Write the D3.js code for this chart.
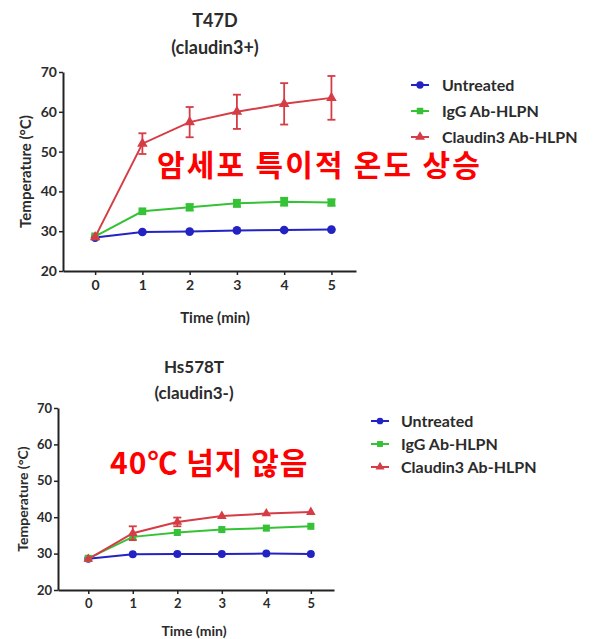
<!DOCTYPE html>
<html>
<head>
<meta charset="utf-8">
<script src="https://cdn.jsdelivr.net/npm/d3@7"></script>
<style>
  body { margin: 0; background: #fff; }
  svg { display: block; }
  .tick text { font-family: Lato, 'Liberation Sans', sans-serif; font-weight: bold; fill: #2b2b2b; }
</style>
</head>
<body>
<svg id="chart" width="595" height="639"></svg>
<script>
const times = [0, 1, 2, 3, 4, 5];
const yTicks = [20, 30, 40, 50, 60, 70];
const seriesNames = ['Untreated', 'IgG Ab-HLPN', 'Claudin3 Ab-HLPN'];
const seriesColors = ['#2323c4', '#36c236', '#d63c46'];

// T47D (claudin3+)
const t47dUntreated = [28.4, 29.8, 29.9, 30.2, 30.3, 30.4];
const t47dIgg = [28.7, 35.0, 36.0, 37.0, 37.4, 37.2];
const t47dIggErr = [0.3, 0.6, 0.8, 0.9, 1.0, 0.8];
const t47dClaudin = [28.5, 52.0, 57.4, 60.0, 62.0, 63.5];
const t47dClaudinErr = [0.4, 2.6, 3.8, 4.3, 5.2, 5.5];

// Hs578T (claudin3-)
const hsUntreated = [28.6, 29.8, 29.9, 29.9, 30.0, 29.9];
const hsIgg = [28.7, 34.6, 35.8, 36.6, 37.0, 37.5];
const hsIggErr = [0.3, 0.6, 0.5, 0.5, 0.5, 0.6];
const hsClaudin = [28.5, 35.6, 38.7, 40.3, 41.0, 41.4];
const hsClaudinErr = [0.4, 1.9, 1.2, 0.5, 0.4, 0.6];

const svg = d3.select('#chart');
const font = "Lato, 'Liberation Sans', sans-serif";

function drawPanel(opts) {
  const x = d3.scaleLinear().domain([-0.68, 5.52]).range([opts.left, opts.right]);
  const y = d3.scaleLinear().domain([20, 70]).range([opts.bottom, opts.top]);
  const g = svg.append('g');

  // titles
  [opts.title, opts.subtitle].forEach((t, i) => {
    g.append('text')
      .attr('x', opts.titleX).attr('y', opts.titleY + i * opts.titleGap)
      .attr('text-anchor', 'middle')
      .style('font-family', font)
      .style('font-weight', 'bold').style('font-size', opts.titleSize + 'px').style('fill', '#2b2b2b')
      .text(t);
  });

  // axes
  const xAxis = g.append('g')
    .attr('transform', `translate(0,${opts.bottom})`)
    .call(d3.axisBottom(x).tickValues(times).tickFormat(d3.format('d')).tickSize(4).tickPadding(5).tickSizeOuter(0));
  xAxis.select('.domain').attr('stroke', '#222').attr('stroke-width', 2);
  xAxis.selectAll('.tick line').attr('stroke', '#222').attr('stroke-width', 1.5);
  xAxis.selectAll('.tick text').style('font-size', opts.tickSize + 'px');

  const yAxis = g.append('g')
    .attr('transform', `translate(${opts.left},0)`)
    .call(d3.axisLeft(y).tickValues(yTicks).tickSize(4).tickPadding(2).tickSizeOuter(0));
  yAxis.select('.domain').attr('stroke', '#222').attr('stroke-width', 2);
  yAxis.selectAll('.tick line').attr('stroke', '#222').attr('stroke-width', 1.5);
  yAxis.selectAll('.tick text').style('font-size', opts.tickSize + 'px');

  g.append('text')
    .attr('x', opts.xLabelX).attr('y', opts.bottom + opts.xLabelGap)
    .attr('text-anchor', 'middle')
    .style('font-family', font)
    .style('font-weight', 'bold').style('font-size', opts.labelSize + 'px').style('fill', '#2b2b2b')
    .text('Time (min)');
  g.append('text')
    .attr('transform', `translate(${opts.yLabelX},${(opts.top + opts.bottom) / 2}) rotate(-90)`)
    .attr('text-anchor', 'middle')
    .style('font-family', font)
    .style('font-weight', 'bold').style('font-size', opts.labelSize + 'px').style('fill', '#2b2b2b')
    .text('Temperature (°C)');

  const line = d3.line().x((d, i) => x(times[i])).y(d => y(d));
  const symbols = [d3.symbolCircle, d3.symbolSquare, d3.symbolTriangle];

  opts.series.forEach((s, k) => {
    const color = seriesColors[k];
    // error bars
    if (s.err) {
      const eb = g.append('g').attr('stroke', color).attr('stroke-width', 1.8);
      s.values.forEach((v, i) => {
        if (s.err[i] < 0.7) return;
        const cx = x(times[i]);
        eb.append('line').attr('x1', cx).attr('x2', cx).attr('y1', y(v - s.err[i])).attr('y2', y(v + s.err[i]));
        eb.append('line').attr('x1', cx - 4).attr('x2', cx + 4).attr('y1', y(v - s.err[i])).attr('y2', y(v - s.err[i]));
        eb.append('line').attr('x1', cx - 4).attr('x2', cx + 4).attr('y1', y(v + s.err[i])).attr('y2', y(v + s.err[i]));
      });
    }
    g.append('path').datum(s.values)
      .attr('fill', 'none').attr('stroke', color).attr('stroke-width', 2)
      .attr('d', line);
    g.selectAll(null).data(s.values).enter().append('path')
      .attr('transform', (d, i) => `translate(${x(times[i])},${y(d)})`)
      .attr('d', d3.symbol().type(symbols[k]).size(k === 2 ? opts.markerSize * 0.8 : opts.markerSize))
      .attr('fill', color);
  });

  // legend
  const lg = g.append('g').attr('transform', `translate(${opts.legendX},${opts.legendY})`);
  seriesNames.forEach((name, k) => {
    const row = lg.append('g').attr('transform', `translate(0,${k * opts.legendGap})`);
    row.append('line').attr('x1', -9).attr('x2', 9).attr('stroke', seriesColors[k]).attr('stroke-width', 2);
    row.append('path').attr('d', d3.symbol().type(symbols[k]).size(opts.markerSize * 0.7)).attr('fill', seriesColors[k]);
    row.append('text').attr('x', opts.legendTextDx).attr('y', 6)
      .style('font-family', font)
      .style('font-weight', 'bold').style('font-size', opts.legendSize + 'px').style('fill', '#2b2b2b')
      .text(name);
  });

  // annotation
  g.append('text')
    .attr('x', opts.noteX).attr('y', opts.noteY)
    .style('font-family', "'Noto Sans CJK KR', sans-serif")
    .style('font-weight', 'bold').style('font-size', '30px').style('fill', '#ff0000')
    .style('letter-spacing', opts.noteSpacing + 'px')
    .text(opts.note);
}

drawPanel({
  left: 63, right: 356, top: 72, bottom: 271,
  title: 'T47D', subtitle: '(claudin3+)', titleX: 215, titleY: 27, titleGap: 27, titleSize: 18,
  tickSize: 14, labelSize: 15, xLabelX: 215, xLabelGap: 52, yLabelX: 31,
  markerSize: 60,
  series: [
    { values: t47dUntreated },
    { values: t47dIgg, err: t47dIggErr },
    { values: t47dClaudin, err: t47dClaudinErr }
  ],
  legendX: 420, legendY: 85, legendGap: 26, legendTextDx: 22, legendSize: 16,
  note: '암세포 특이적 온도 상승', noteX: 157, noteY: 176, noteSpacing: 2.2
});

drawPanel({
  left: 58, right: 334, top: 408, bottom: 590,
  title: 'Hs578T', subtitle: '(claudin3-)', titleX: 194, titleY: 373, titleGap: 26, titleSize: 17,
  tickSize: 13, labelSize: 14, xLabelX: 194, xLabelGap: 46, yLabelX: 28,
  markerSize: 50,
  series: [
    { values: hsUntreated },
    { values: hsIgg, err: hsIggErr },
    { values: hsClaudin, err: hsClaudinErr }
  ],
  legendX: 380, legendY: 421, legendGap: 23, legendTextDx: 21, legendSize: 16,
  note: '40℃ 넘지 않음', noteX: 110, noteY: 474, noteSpacing: 1
});
</script>
</body>
</html>
